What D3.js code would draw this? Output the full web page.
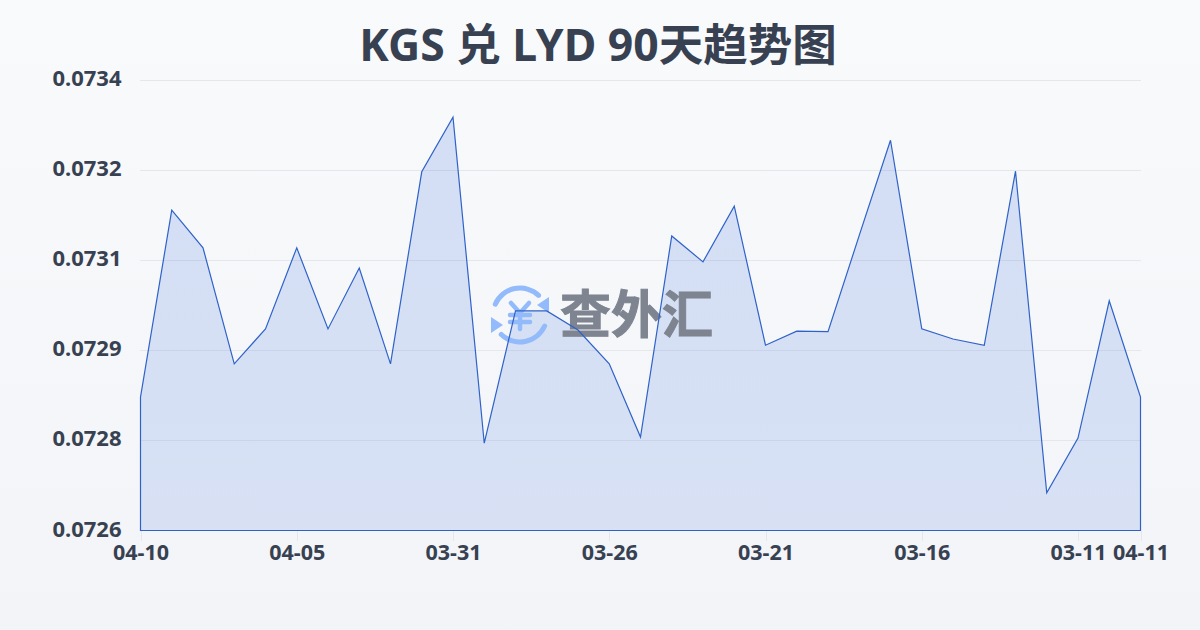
<!DOCTYPE html>
<html><head><meta charset="utf-8">
<script src="https://cdn.jsdelivr.net/npm/d3@7/dist/d3.min.js"></script>
<style>html,body{margin:0;padding:0;background:#f8fafc}svg{display:block}</style>
</head><body><div id="c"></div>
<script>
const titleText = "KGS 兑 LYD 90天趋势图";
const watermarkText = "查外汇";
const categories = ["04-10","04-09","04-08","04-07","04-06","04-05","04-04","04-03","04-02","04-01","03-31","03-30","03-29","03-28","03-27","03-26","03-25","03-24","03-23","03-22","03-21","03-20","03-19","03-18","03-17","03-16","03-15","03-14","03-13","03-12","03-11","03-10","04-11"];
const values = [0.072837,0.073169,0.073102,0.072896,0.072958,0.073102,0.072958,0.073066,0.072896,0.073237,0.073334,0.072755,0.072990,0.072990,0.072956,0.072896,0.072766,0.073123,0.073077,0.073176,0.072929,0.072954,0.072953,0.073124,0.073293,0.072958,0.072940,0.072929,0.073238,0.072667,0.072764,0.073008,0.072837];
const xTickLabels = ["04-10","04-05","03-31","03-26","03-21","03-16","03-11","04-11"];
const yTicks = [0.0726,0.07276,0.07292,0.07308,0.07324,0.0734];

const W=1200,H=630,font='"Noto Sans","Noto Sans CJK SC",sans-serif';
const svg=d3.select("#c").append("svg").attr("width",W).attr("height",H);
const defs=svg.append("defs");
const bg=defs.append("linearGradient").attr("id","bg").attr("x1",0).attr("y1",0).attr("x2",0).attr("y2",1);
bg.append("stop").attr("offset",0).attr("stop-color","#f8fafc");
bg.append("stop").attr("offset",1).attr("stop-color","#f2f4f7");
svg.append("rect").attr("width",W).attr("height",H).attr("fill","url(#bg)");

const x=d3.scalePoint().domain(categories).range([140.5,1140.5]);
const y=d3.scaleLinear().domain([0.0726,0.0734]).range([530.5,80]);

svg.append("text").attr("x",598).attr("y",61).attr("text-anchor","middle")
  .attr("font-family",font).attr("font-weight",700).attr("font-size",44.5).attr("fill","#374151").text(titleText);

svg.append("g").selectAll("line").data(yTicks.slice(1)).join("line")
  .attr("x1",140).attr("x2",1141).attr("y1",d=>Math.floor(y(d))+.5).attr("y2",d=>Math.floor(y(d))+.5)
  .attr("stroke","#e5e7eb").attr("stroke-width",1);

svg.append("g").selectAll("text").data(yTicks).join("text")
  .attr("x",121.5).attr("y",d=>y(d)+6).attr("text-anchor","end")
  .attr("font-family",font).attr("font-weight",700).attr("font-size",22).attr("fill","#374151")
  .text(d=>d3.format(".4f")(d));

const tickIdx=categories.map((c,i)=>i).filter(i=>xTickLabels.includes(categories[i]));
svg.append("g").selectAll("line").data(tickIdx).join("line")
  .attr("x1",i=>Math.round(x(categories[i]))+.5).attr("x2",i=>Math.round(x(categories[i]))+.5)
  .attr("y1",531).attr("y2",541).attr("stroke","#e5e7eb");
svg.append("g").selectAll("text").data(tickIdx).join("text")
  .attr("x",i=>x(categories[i])+.5).attr("y",560).attr("text-anchor","middle")
  .attr("font-family",font).attr("font-weight",700).attr("font-size",21.5).attr("fill","#374151")
  .text(i=>categories[i]);

const grad=defs.append("linearGradient").attr("id","af").attr("x1",0).attr("y1",0).attr("x2",0).attr("y2",1);
grad.append("stop").attr("offset",0).attr("stop-color","#2f66dc").attr("stop-opacity",.18);
grad.append("stop").attr("offset",1).attr("stop-color","#2f66dc").attr("stop-opacity",.14);
const area=d3.area().x((d,i)=>x(categories[i])).y0(y(0.0726)).y1(d=>y(d));
svg.append("path").datum(values).attr("d",d=>area(d)+"Z").attr("fill","url(#af)");

// watermark
const wm=svg.append("g");
const blue="#93bbfb";
const ic=wm.append("g").attr("transform","translate(520,315)");
const ring=d3.arc().innerRadius(24.5).outerRadius(29.5).cornerRadius(2.5);
ic.append("path").attr("d",ring({startAngle:-1.25,endAngle:0.85})).attr("fill",blue);
ic.append("path").attr("d",ring({startAngle:1.9,endAngle:4.0})).attr("fill",blue);
ic.append("path").attr("d",d3.line()([[17,-10],[29,-18],[29,-2]])+"Z").attr("fill",blue);
ic.append("path").attr("d",d3.line()([[-17,10],[-29,18],[-29,2]])+"Z").attr("fill",blue);
const yen=[[[-9,-12],[0,-2]],[[9,-12],[0,-2]],[[-10,0],[10,0]],[[-10,7],[10,7]],[[0,-2],[0,14]]];
ic.selectAll(".y").data(yen).join("path").attr("d",d=>d3.line()(d)).attr("stroke",blue).attr("stroke-width",4.5).attr("stroke-linecap","round").attr("fill","none");
wm.append("text").attr("x",560).attr("y",333).attr("font-family",'"Noto Sans CJK SC",sans-serif').attr("font-weight",700).attr("font-size",51).attr("fill","#7e8490").attr("stroke","#7e8490").attr("stroke-width",1).text(watermarkText);

svg.append("path").datum(values).attr("d",d=>area(d)+"Z").attr("fill","none").attr("stroke","#2f62c8").attr("stroke-width",1.2).attr("stroke-linejoin","miter");
</script></body></html>
